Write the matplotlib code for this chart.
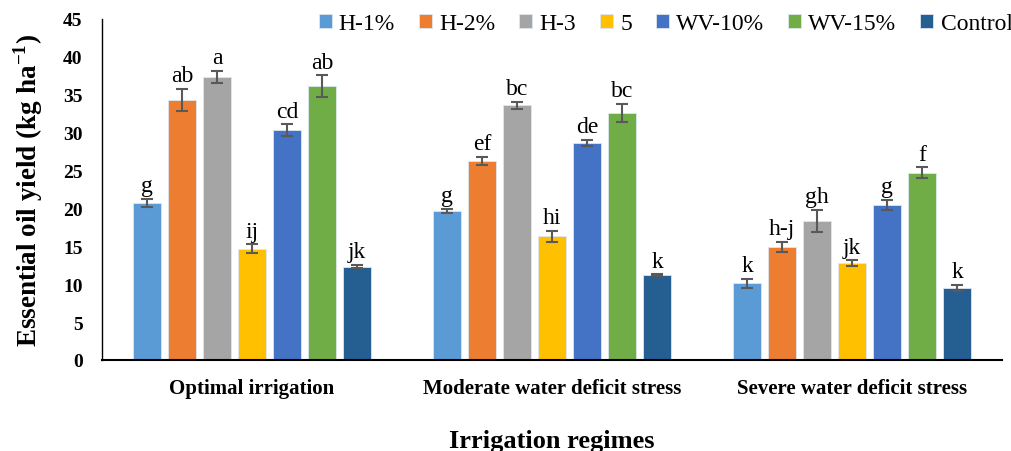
import matplotlib
matplotlib.use("Agg")
import matplotlib.pyplot as plt
import numpy as np

plt.rcParams['font.family'] = ['Liberation Serif', 'DejaVu Serif']
plt.rcParams['mathtext.fontset'] = 'custom'
plt.rcParams['mathtext.rm'] = 'Liberation Serif'
plt.rcParams['mathtext.bf'] = 'Liberation Serif:bold'

regimes = ["Optimal irrigation", "Moderate water deficit stress", "Severe water deficit stress"]
treatments = ["H-1%", "H-2%", "H-3", "5", "WV-10%", "WV-15%", "Control"]
colors = ["#5B9BD5", "#ED7D31", "#A5A5A5", "#FFC000", "#4472C4", "#70AD47", "#255E91"]

# values per treatment across the three regimes
h1 = [20.7, 19.7, 10.1]
h2 = [34.3, 26.3, 14.9]
h3 = [37.4, 33.6, 18.3]
t5 = [14.7, 16.3, 12.75]
wv10 = [30.3, 28.6, 20.45]
wv15 = [36.1, 32.6, 24.7]
control = [12.3, 11.2, 9.55]

err_h1 = [0.57, 0.26, 0.6]
err_h2 = [1.45, 0.55, 0.68]
err_h3 = [0.8, 0.44, 1.47]
err_t5 = [0.57, 0.77, 0.4]
err_wv10 = [0.8, 0.42, 0.66]
err_wv15 = [1.45, 1.2, 0.73]
err_control = [0.22, 0.1, 0.4]

lab_h1 = ["g", "g", "k"]
lab_h2 = ["ab", "ef", "h-j"]
lab_h3 = ["a", "bc", "gh"]
lab_t5 = ["ij", "hi", "jk"]
lab_wv10 = ["cd", "de", "g"]
lab_wv15 = ["ab", "bc", "f"]
lab_control = ["jk", "k", "k"]

series = [h1, h2, h3, t5, wv10, wv15, control]
errors = [err_h1, err_h2, err_h3, err_t5, err_wv10, err_wv15, err_control]
labels = [lab_h1, lab_h2, lab_h3, lab_t5, lab_wv10, lab_wv15, lab_control]

fig = plt.figure(figsize=(10.12, 4.52), dpi=100)
ax = fig.add_axes([102/1012, 91/452, 900/1012, 341/452])

x = np.arange(len(regimes))
step = 35/300
bw = 28/300
for i, (vals, errs, labs, c, name) in enumerate(zip(series, errors, labels, colors, treatments)):
    pos = x + (i - 3) * step
    ax.bar(pos, vals, width=bw, color=c, edgecolor="#DDE6F0", linewidth=0.6, label=name, zorder=2)
    ax.errorbar(pos, vals, yerr=errs, fmt="none", ecolor="#595959", elinewidth=1.5,
                capsize=4.5, capthick=1.5, zorder=3)
    for p, v, e, l in zip(pos, vals, errs, labs):
        ax.annotate(l, (p, v + e), xytext=(0, 2), textcoords="offset points",
                    ha="center", va="bottom", fontsize=17)

ax.set_xlim(-0.5, 2.5)
ax.set_ylim(0, 45)
ax.set_yticks(np.arange(0, 46, 5))
ax.set_xticks(x)
ax.set_xticklabels(regimes, fontsize=15, fontweight="bold")
for t in ax.get_yticklabels():
    t.set_fontweight("bold")
    t.set_fontsize(14)
ax.tick_params(axis="y", length=0, pad=14)
ax.tick_params(axis="x", length=0, pad=13)
ax.spines["top"].set_visible(False)
ax.spines["right"].set_visible(False)
ax.spines["left"].set_linewidth(1.0)
ax.spines["bottom"].set_linewidth(1.5)

ax.set_ylabel(r"Essential oil yield (kg ha$^{\mathbf{-1}}$)", fontsize=19.5, fontweight="bold", labelpad=13)
ax.set_xlabel("Irrigation regimes", fontsize=19, fontweight="bold", labelpad=22)

leg = ax.legend(ncol=7, loc="upper right", bbox_to_anchor=(1022/900 - 102/900, 1.045),
                frameon=False, fontsize=17, handlelength=0.55, handleheight=0.55,
                handletextpad=0.3, columnspacing=1.02, borderaxespad=0)

fig.savefig("out.png", dpi=100)
